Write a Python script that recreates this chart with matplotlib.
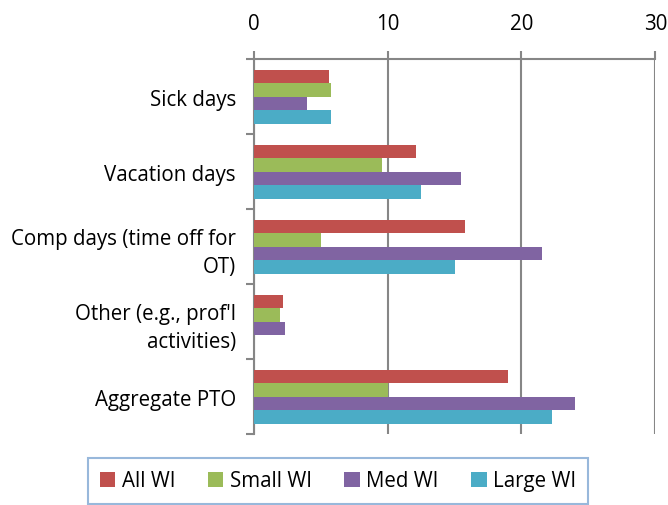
import numpy as np
import matplotlib
matplotlib.use('Agg')
import matplotlib.pyplot as plt

plt.rcParams['font.family'] = ['Open Sans', 'DejaVu Sans']

categories = ['Sick days', 'Vacation days', 'Comp days (time off for\nOT)',
              "Other (e.g., prof'l\nactivities)", 'Aggregate PTO']
series = ['All WI', 'Small WI', 'Med WI', 'Large WI']
colors = ['#C0504D', '#9BBB59', '#8064A2', '#4BACC6']

all_wi = [5.6, 12.15, 15.8, 2.2, 19.0]
small_wi = [5.75, 9.55, 5.0, 1.95, 10.0]
med_wi = [3.95, 15.5, 21.5, 2.3, 24.0]
large_wi = [5.8, 12.5, 15.0, 0, 22.25]

fig = plt.figure(figsize=(6.68, 5.06), dpi=100)
ax = fig.add_axes([0.380, 0.140, 0.601, 0.741])

h = 0.181
y = np.arange(len(categories))
for i, (vals, name, c) in enumerate(zip([all_wi, small_wi, med_wi, large_wi], series, colors)):
    ax.barh(y - 1.5 * h + i * h, vals, height=h, color=c, label=name, zorder=3)

ax.set_xlim(0, 30)
ax.set_ylim(len(categories) - 0.5, -0.5)
ax.set_xticks([0, 10, 20, 30])
ax.xaxis.tick_top()
ax.grid(axis='x', color='#868686', linewidth=1.5, zorder=0)

ax.set_yticks(y)
ax.set_yticklabels(categories, fontsize=14.8, linespacing=1.4)
ax.set_yticks(np.arange(len(categories) + 1) - 0.5, minor=True)
ax.tick_params(axis='y', which='major', length=0, pad=13)
ax.tick_params(axis='y', which='minor', length=6, width=1.5, color='#868686')
ax.tick_params(axis='x', length=6, width=1.5, color='#868686', labelsize=14.8, pad=12)

for s in ['right', 'bottom']:
    ax.spines[s].set_visible(False)
for s in ['top', 'left']:
    ax.spines[s].set_color('#868686')
    ax.spines[s].set_linewidth(1.5)

leg = fig.legend(loc='center', bbox_to_anchor=(0.506, 0.048), ncol=4, fontsize=14.8,
                 frameon=True, fancybox=False, handlelength=0.75, handleheight=0.75,
                 handletextpad=0.3, columnspacing=1.6, borderpad=0.6)
leg.get_frame().set_edgecolor('#7FA6D3')
leg.get_frame().set_linewidth(1.5)

fig.savefig('out.png', dpi=100)
